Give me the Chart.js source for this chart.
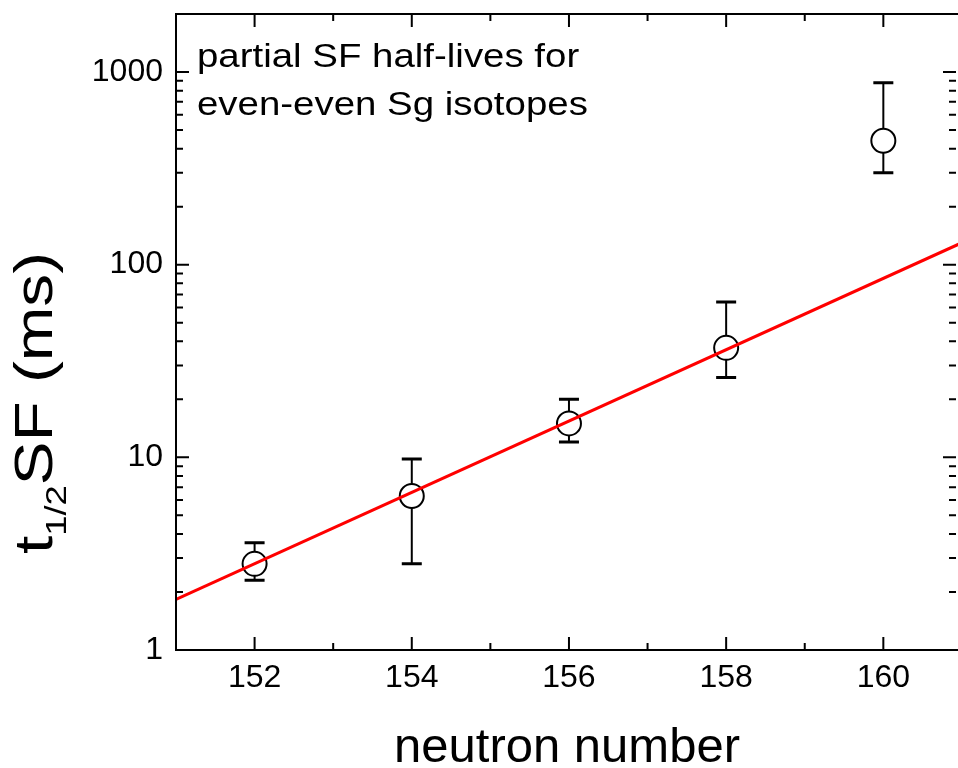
<!DOCTYPE html>
<html>
<head>
<meta charset="utf-8">
<script src="https://cdn.jsdelivr.net/npm/chart.js@4.4.0/dist/chart.umd.min.js"></script>
<style>
  html, body { margin: 0; padding: 0; background: #fff; overflow: hidden; }
  #wrap { width: 958px; height: 768px; position: relative; }
  canvas { display: block; }
</style>
</head>
<body>
<div id="wrap"><canvas id="sfChart"></canvas></div>
<script>
// neutron numbers and partial SF half-lives (ms)
const neutronN = [152, 154, 156, 158, 160];
const halfLife = [2.8, 6.3, 15, 37, 440];
const errHigh  = [3.6, 9.8, 20, 64, 880];
const errLow   = [2.3, 2.8, 12, 26, 300];

// red fit line end points
const fitX = [151, 161];
const fitY = [1.83, 130];

const xTicks = [152, 154, 156, 158, 160];
const xMinor = [151, 153, 155, 157, 159, 161];
const yTicks = [1, 10, 100, 1000];

const FONT = "'Liberation Sans', Arial, sans-serif";

// error bars under the circles
const errorBars = {
    id: 'errorBars',
    beforeDatasetsDraw(chart) {
        const ctx = chart.ctx;
        const xs = chart.scales.x, ys = chart.scales.y;
        ctx.save();
        ctx.strokeStyle = '#000';
        for (let i = 0; i < neutronN.length; i++) {
            const px = xs.getPixelForValue(neutronN[i]);
            const top = ys.getPixelForValue(errHigh[i]);
            const bot = ys.getPixelForValue(errLow[i]);
            ctx.lineWidth = 2;
            ctx.beginPath();
            ctx.moveTo(px, top); ctx.lineTo(px, bot);
            ctx.stroke();
            ctx.lineWidth = 3;
            ctx.beginPath();
            ctx.moveTo(px - 10, top); ctx.lineTo(px + 10, top);
            ctx.moveTo(px - 10, bot); ctx.lineTo(px + 10, bot);
            ctx.stroke();
        }
        ctx.restore();
    }
};

// frame, inward ticks and the text
const frame = {
    id: 'frame',
    afterDraw(chart) {
        const ctx = chart.ctx;
        const a = chart.chartArea;
        const xs = chart.scales.x, ys = chart.scales.y;
        ctx.save();
        ctx.strokeStyle = '#000';
        ctx.lineWidth = 2;
        ctx.beginPath();
        ctx.moveTo(a.right, a.top); ctx.lineTo(a.left, a.top);
        ctx.lineTo(a.left, a.bottom); ctx.lineTo(a.right, a.bottom);
        ctx.stroke();

        ctx.beginPath();
        // x ticks, bottom and top
        xTicks.forEach(v => {
            const p = xs.getPixelForValue(v);
            ctx.moveTo(p, a.bottom); ctx.lineTo(p, a.bottom - 13);
            ctx.moveTo(p, a.top); ctx.lineTo(p, a.top + 13);
        });
        xMinor.forEach(v => {
            const p = xs.getPixelForValue(v);
            if (p > a.right) return;
            ctx.moveTo(p, a.bottom); ctx.lineTo(p, a.bottom - 7);
            ctx.moveTo(p, a.top); ctx.lineTo(p, a.top + 7);
        });
        // y ticks, left and right
        for (let d = 1; d <= 1000; d *= 10) {
            for (let m = 1; m <= 9; m++) {
                const v = d * m;
                if (v > ys.max) break;
                const p = ys.getPixelForValue(v);
                const len = m === 1 ? 13 : 7;
                ctx.moveTo(a.left, p); ctx.lineTo(a.left + len, p);
                ctx.moveTo(a.right - 2, p); ctx.lineTo(a.right - 2 - len, p);
            }
        }
        ctx.stroke();

        ctx.fillStyle = '#000';
        // annotation
        ctx.font = '34px ' + FONT;
        ctx.textBaseline = 'alphabetic';
        ctx.textAlign = 'left';
        ctx.save();
        ctx.translate(197, 0);
        ctx.scale(1.13, 1);
        ctx.fillText('partial SF half-lives for', 0, 67);
        ctx.fillText('even-even Sg isotopes', 0, 115);
        ctx.restore();

        // x title
        ctx.font = '49px ' + FONT;
        ctx.textAlign = 'center';
        ctx.fillText('neutron number', 567, 762);

        // y title with subscript
        ctx.save();
        ctx.translate(52, 403);
        ctx.rotate(-Math.PI / 2);
        ctx.textAlign = 'left';
        ctx.font = '54px ' + FONT;
        const wT = ctx.measureText('t').width;
        const wR = ctx.measureText('SF (ms)').width;
        ctx.font = '30px ' + FONT;
        const wS = ctx.measureText('1/2').width;
        const total = wT + wS + wR;
        const s = 302 / total;
        ctx.scale(s, 1);
        let x0 = -total / 2;
        ctx.font = '54px ' + FONT;
        ctx.fillText('t', x0, 0);
        ctx.font = '30px ' + FONT;
        ctx.fillText('1/2', x0 + wT, 14);
        ctx.font = '54px ' + FONT;
        ctx.fillText('SF (ms)', x0 + wT + wS, 0);
        ctx.restore();

        ctx.restore();
    }
};

function noPad(axis) {
    axis.paddingLeft = 0;
    axis.paddingRight = 0;
    axis.paddingTop = 0;
    axis.paddingBottom = 0;
}

const ctx = document.getElementById('sfChart').getContext('2d');
const chart = new Chart(ctx, {
    data: {
        datasets: [
            {
                type: 'line',
                data: fitX.map((x, i) => ({ x: x, y: fitY[i] })),
                borderColor: '#ff0000',
                borderWidth: 3,
                pointRadius: 0,
                fill: false,
                tension: 0
            },
            {
                type: 'scatter',
                data: neutronN.map((x, i) => ({ x: x, y: halfLife[i] })),
                pointStyle: 'circle',
                pointRadius: 12,
                pointBackgroundColor: '#ffffff',
                pointBorderColor: '#000000',
                pointBorderWidth: 2
            }
        ]
    },
    options: {
        responsive: true,
        maintainAspectRatio: false,
        animation: false,
        events: [],
        layout: { autoPadding: false, padding: { top: 14, right: 0, left: 0, bottom: 0 } },
        plugins: { legend: { display: false }, tooltip: { enabled: false } },
        scales: {
            x: {
                type: 'linear',
                min: 151,
                max: 160.95,
                grid: { display: false, drawTicks: false },
                border: { display: false },
                afterBuildTicks: axis => { axis.ticks = xTicks.map(v => ({ value: v })); },
                afterFit: axis => { axis.height = 118; noPad(axis); },
                ticks: {
                    color: '#000',
                    padding: 9,
                    maxRotation: 0,
                    font: { family: FONT, size: 32 },
                    callback: v => String(v)
                }
            },
            y: {
                type: 'logarithmic',
                min: 1,
                max: 2000,
                grid: { display: false, drawTicks: false },
                border: { display: false },
                afterBuildTicks: axis => { axis.ticks = yTicks.map(v => ({ value: v })); },
                afterFit: axis => { axis.width = 176; noPad(axis); },
                ticks: {
                    color: '#000',
                    padding: 13,
                    font: { family: FONT, size: 32 },
                    callback: v => String(v)
                }
            }
        }
    },
    plugins: [errorBars, frame]
});
</script>
</body>
</html>
